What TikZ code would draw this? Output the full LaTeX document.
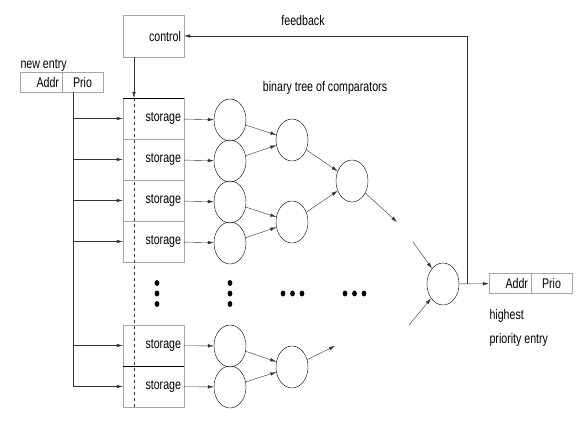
\documentclass[tikz,border=0pt]{standalone}
\usepackage{fontspec}
\setmainfont[FakeStretch=0.76]{Liberation Sans}
\usetikzlibrary{shapes.geometric,arrows.meta}

\begin{document}
\begin{tikzpicture}[%
    x=1pt,y=-1pt,>={Latex[length=6pt,width=3.5pt]},
    font=\fontsize{14}{16}\selectfont,
    box/.style={rectangle,draw=black!35,minimum width=61pt,minimum height=41pt,
      text width=55pt,inner xsep=3pt,align=right},
    cell/.style={rectangle,draw=black!35,minimum width=42pt,minimum height=20pt,inner sep=2pt},
    cmp/.style={ellipse,draw,thin,minimum width=32pt,minimum height=42pt,inner sep=0pt},
    wire/.style={thin,black!80}
  ]
		\useasboundingbox (0,0) rectangle (580,423);

		% labels
		\node at (303,20) (fblabel) {feedback};
		\node at (325,88) (treelabel) {binary tree of comparators};
		\node[anchor=west] at (17,65) (newlabel) {new entry};
		\node[anchor=west] at (486,316) (hilabel) {highest};
		\node[anchor=west] at (486,340) (prlabel) {priority entry};

		% control and new entry
		\node at (153.5,36) [box,minimum height=42pt] (control) {control};
		\node at (41,82) [cell,text width=36pt,align=right] (naddr) {Addr};
		\node at (82.5,82) [cell,minimum width=41pt] (nprio) {Prio};

		% storage cells
		\foreach \i/\y in {1/118.5,2/159.5,3/200.5,4/241.5,5/345.5,6/386.5}
			\node at (153.5,\y) [box] (s\i) {storage};
		\draw (s1.north west) -- (s1.north east);
		\draw (s6.north west) -- (s6.north east);

		% input bus
		\coordinate (bus top) at (73,92);
		\coordinate (bus end) at (73,386.5);
		\draw[wire] (bus top) -- (bus end);
		\foreach \i in {1,...,6}
			\draw[wire,->] (s\i.west -| bus top) -- (s\i.west);

		% control line
		\coordinate (ctl) at (134,57);
		\draw[wire,->] (ctl) -- (s1.north -| ctl);
		\draw[wire,dashed] (s1.north -| ctl) -- (s6.south -| ctl);

		% comparators
		\foreach \i/\y in {1/120,2/161,3/202,4/243,5/346,6/387}
			\node at (230,\y) [cmp] (c\i) {};
		\foreach \i in {1,...,6}
			\draw[wire,->] (s\i) -- (c\i);

		\node at (292,140) [cmp] (d1) {}
			edge[wire,<-] (c1)
			edge[wire,<-] (c2);
		\node at (292,222) [cmp] (d2) {}
			edge[wire,<-] (c3)
			edge[wire,<-] (c4);
		\node at (292,367) [cmp] (d3) {}
			edge[wire,<-] (c5)
			edge[wire,<-] (c6);

		\node at (352,181) [cmp] (e1) {}
			edge[wire,<-] (d1)
			edge[wire,<-] (d2);

		\node at (443,284) [cmp] (top) {};

		% loose ends
		\coordinate (e1 out) at (397,222);
		\coordinate (top in1) at (413,242);
		\coordinate (top in2) at (409,325);
		\coordinate (d3 out) at (335,346);
		\draw[wire,->] (e1) -- (e1 out);
		\draw[wire,->] (top in1) -- (top);
		\draw[wire,->] (top in2) -- (top);
		\draw[wire,->] (d3) -- (d3 out);

		% dots
		\foreach \x/\y in {157/283,157/293.5,157/304,230/283,230/293.5,230/304,
			283/293.5,292.5/293.5,302/293.5,345/293.5,354.5/293.5,364/293.5}
			\fill (\x,\y) ellipse (2.4pt and 2.9pt);

		% output entry
		\node at (510,283.5) [cell,text width=36pt,align=right] (oaddr) {Addr};
		\node at (551.5,283.5) [cell,minimum width=41pt] (oprio) {Prio};
		\draw[wire,->] (top) -- (oaddr);

		% feedback
		\coordinate (fb) at (467,283.5);
		\draw[wire,->] (fb) |- (control);
	\end{tikzpicture}
\end{document}
